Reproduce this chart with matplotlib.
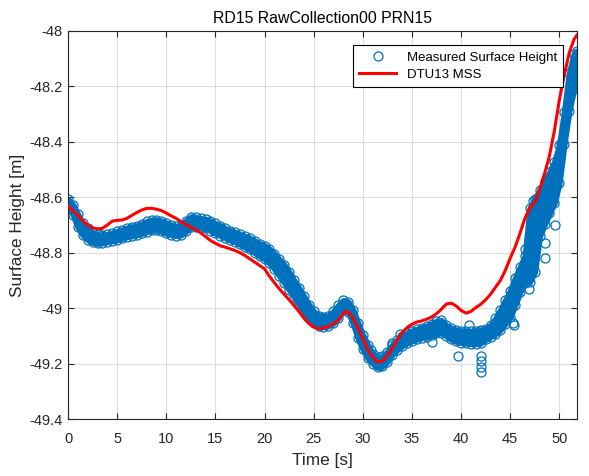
import numpy as np
import matplotlib
matplotlib.use('Agg')
import matplotlib.pyplot as plt
from matplotlib.ticker import FormatStrFormatter

plt.rcParams['font.family'] = ['Liberation Sans', 'DejaVu Sans']
plt.rcParams['axes.unicode_minus'] = False

# measured surface height: upper / lower edge of the point cloud, every 0.5 s
t_band = [0.0, 0.5, 1.0, 1.5, 2.0, 2.5, 3.0, 3.5, 4.0, 4.5, 5.0, 5.5, 6.0, 6.5,
          7.0, 7.5, 8.0, 8.5, 9.0, 9.5, 10.0, 10.5, 11.0, 11.5, 12.0, 12.5,
          13.0, 13.5, 14.0, 14.5, 15.0, 15.5, 16.0, 16.5, 17.0, 17.5, 18.0,
          18.5, 19.0, 19.5, 20.0, 20.5, 21.0, 21.5, 22.0, 22.5, 23.0, 23.5,
          24.0, 24.5, 25.0, 25.5, 26.0, 26.5, 27.0, 27.5, 28.0, 28.5, 29.0,
          29.5, 30.0, 30.5, 31.0, 31.5, 32.0, 32.5, 33.0, 33.5, 34.0, 34.5,
          35.0, 35.5, 36.0, 36.5, 37.0, 37.5, 38.0, 38.5, 39.0, 39.5, 40.0,
          40.5, 41.0, 41.5, 42.0, 42.5, 43.0, 43.5, 44.0, 44.5, 45.0, 45.5,
          46.0, 46.5, 47.0, 47.5, 48.0, 48.5, 49.0, 49.5, 50.0, 50.5, 51.0,
          51.5, 51.8]
band_top = [-48.607, -48.627, -48.662, -48.694, -48.712, -48.727, -48.734, -48.736,
            -48.734, -48.729, -48.723, -48.717, -48.711, -48.706, -48.702, -48.695,
            -48.687, -48.683, -48.681, -48.685, -48.693, -48.700, -48.705, -48.702,
            -48.684, -48.670, -48.672, -48.676, -48.680, -48.686, -48.694, -48.702,
            -48.712, -48.720, -48.726, -48.734, -48.740, -48.747, -48.757, -48.767,
            -48.774, -48.787, -48.804, -48.824, -48.844, -48.870, -48.900, -48.927,
            -48.957, -48.987, -49.012, -49.027, -49.032, -49.027, -49.012, -48.990,
            -48.972, -48.977, -49.006, -49.052, -49.097, -49.132, -49.164, -49.178,
            -49.174, -49.157, -49.132, -49.114, -49.100, -49.090, -49.082, -49.076,
            -49.070, -49.064, -49.057, -49.047, -49.044, -49.062, -49.072, -49.078,
            -49.082, -49.084, -49.084, -49.082, -49.080, -49.074, -49.062, -49.037,
            -49.007, -48.972, -48.937, -48.892, -48.852, -48.812, -48.640, -48.605,
            -48.575, -48.542, -48.510, -48.472, -48.412, -48.292, -48.152, -48.082,
            -48.072]
band_bot = [-48.623, -48.663, -48.708, -48.736, -48.753, -48.763, -48.766, -48.764,
            -48.760, -48.757, -48.754, -48.748, -48.742, -48.739, -48.736, -48.730,
            -48.724, -48.719, -48.717, -48.723, -48.730, -48.735, -48.738, -48.736,
            -48.723, -48.706, -48.708, -48.708, -48.712, -48.720, -48.730, -48.738,
            -48.746, -48.754, -48.760, -48.770, -48.780, -48.788, -48.800, -48.813,
            -48.822, -48.838, -48.858, -48.883, -48.908, -48.933, -48.960, -48.986,
            -49.013, -49.036, -49.053, -49.063, -49.068, -49.064, -49.054, -49.036,
            -49.008, -49.013, -49.054, -49.108, -49.148, -49.180, -49.200, -49.214,
            -49.210, -49.193, -49.168, -49.150, -49.136, -49.126, -49.118, -49.112,
            -49.106, -49.104, -49.098, -49.090, -49.088, -49.100, -49.113, -49.120,
            -49.124, -49.126, -49.128, -49.128, -49.126, -49.113, -49.103, -49.093,
            -49.078, -49.056, -49.033, -48.988, -48.943, -48.908, -48.905, -48.870,
            -48.740, -48.698, -48.658, -48.620, -48.548, -48.408, -48.288, -48.208,
            -48.148]

# isolated measurements away from the main cloud
t_out = [30.8, 33.0, 33.8, 37.0, 39.7, 40.8, 41.9, 42.0, 42.0, 42.0, 42.0, 45.3,
         45.4, 46.5, 46.9, 47.3, 47.5, 48.5, 48.5, 49.6, 50.2]
h_out = [-49.150, -49.125, -49.092, -49.122, -49.172, -49.062, -49.082, -49.172,
         -49.192, -49.212, -49.232, -49.055, -49.060, -48.785, -48.930, -48.615,
         -48.740, -48.765, -48.818, -48.700, -48.404]

# DTU13 mean sea surface
t_mss = [0.0, 0.5, 1.0, 1.5, 2.0, 2.5, 3.0, 3.5, 4.0, 4.5, 5.0, 5.5, 6.0, 6.5,
         7.0, 7.5, 8.0, 8.5, 9.0, 9.5, 10.0, 10.5, 11.0, 11.5, 12.0, 12.5,
         13.0, 13.5, 14.0, 14.5, 15.0, 15.5, 16.0, 16.5, 17.0, 17.5, 18.0,
         18.5, 19.0, 19.5, 20.0, 20.5, 21.0, 21.5, 22.0, 22.5, 23.0, 23.5,
         24.0, 24.5, 25.0, 25.5, 26.0, 26.5, 27.0, 27.5, 28.0, 28.3, 28.7,
         29.0, 29.5, 30.0, 30.5, 31.0, 31.5, 32.0, 32.5, 33.0, 33.5, 34.0,
         34.5, 35.0, 35.5, 36.0, 36.5, 37.0, 37.5, 38.0, 38.5, 39.0, 39.5,
         40.0, 40.5, 41.0, 41.5, 42.0, 42.5, 43.0, 43.5, 44.0, 44.5, 45.0,
         45.5, 46.0, 46.5, 47.0, 47.5, 48.0, 48.5, 49.0, 49.5, 50.0, 50.5,
         51.0, 51.5, 51.8]
h_mss = [-48.633, -48.648, -48.665, -48.684, -48.700, -48.710, -48.714, -48.712,
         -48.700, -48.686, -48.683, -48.682, -48.676, -48.665, -48.655, -48.646,
         -48.640, -48.640, -48.643, -48.648, -48.657, -48.667, -48.676, -48.688,
         -48.698, -48.708, -48.718, -48.728, -48.742, -48.756, -48.766, -48.775,
         -48.780, -48.786, -48.792, -48.800, -48.810, -48.822, -48.834, -48.846,
         -48.858, -48.885, -48.908, -48.930, -48.950, -48.970, -48.990, -49.012,
         -49.036, -49.055, -49.068, -49.074, -49.072, -49.066, -49.056, -49.044,
         -49.020, -49.010, -49.020, -49.036, -49.070, -49.110, -49.150, -49.178,
         -49.195, -49.190, -49.170, -49.145, -49.115, -49.088, -49.070, -49.058,
         -49.050, -49.046, -49.040, -49.032, -49.020, -49.004, -48.985, -48.982,
         -48.992, -49.008, -49.018, -49.012, -48.998, -48.986, -48.970, -48.950,
         -48.925, -48.900, -48.864, -48.820, -48.780, -48.730, -48.676, -48.638,
         -48.618, -48.572, -48.515, -48.450, -48.360, -48.250, -48.160, -48.080,
         -48.030, -48.015]

x_ticks = [0, 5, 10, 15, 20, 25, 30, 35, 40, 45, 50]
y_ticks = [-49.4, -49.2, -49.0, -48.8, -48.6, -48.4, -48.2, -48.0]

blue = '#0072BD'

fig = plt.figure(figsize=(5.89, 4.76), dpi=100)
ax = fig.add_axes([0.1155, 0.1197, 0.8641, 0.8152])

# solid core of the dense point cloud (thick edge so it reaches into the edge circles)
ax.fill_between(t_band, band_bot, band_top, facecolor=blue, edgecolor=blue,
                lw=4.2, joinstyle='round', zorder=2)
ax.plot(t_band, band_top, 'o', mfc='none', mec=blue, ms=6.5, mew=0.9, zorder=2)
ax.plot(t_band, band_bot, 'o', mfc='none', mec=blue, ms=6.5, mew=0.9, zorder=2)
ax.plot(t_out, h_out, 'o', mfc='none', mec=blue, ms=6.5, mew=0.9, zorder=2)
# legend handle
ax.plot([], [], 'o', mfc='none', mec=blue, ms=6.5, mew=0.9, label='Measured Surface Height')
ax.plot(t_mss, h_mss, color='red', lw=2.2, zorder=3, label='DTU13 MSS')

ax.set_xlim(0, 51.8)
ax.set_ylim(-49.4, -48.0)
ax.set_xticks(x_ticks)
ax.set_yticks(y_ticks)
ax.yaxis.set_major_formatter(FormatStrFormatter('%g'))
ax.grid(True, color='#dcdcdc', lw=0.8)
ax.set_axisbelow(True)
ax.tick_params(direction='in', top=True, right=True, length=4, labelsize=10.5,
               colors='#262626')
ax.tick_params(axis='x', pad=9.5)
ax.tick_params(axis='y', pad=4)
for s in ax.spines.values():
    s.set_color('#262626')
    s.set_linewidth(0.8)

ax.set_xlabel('Time [s]', fontsize=12.4, color='#262626', labelpad=5)
ax.set_ylabel('Surface Height [m]', fontsize=12.4, color='#262626', labelpad=3)
ax.set_title('RD15 RawCollection00 PRN15', fontsize=11.4, color='black', pad=6)

leg = ax.legend(loc='upper right', bbox_to_anchor=(0.972, 0.963), fontsize=9.5,
                fancybox=False, framealpha=1, edgecolor='black', borderaxespad=0,
                borderpad=0.45, handlelength=2.8, labelspacing=0.4)
leg.get_frame().set_linewidth(0.8)

fig.savefig('out.png', dpi=100)
